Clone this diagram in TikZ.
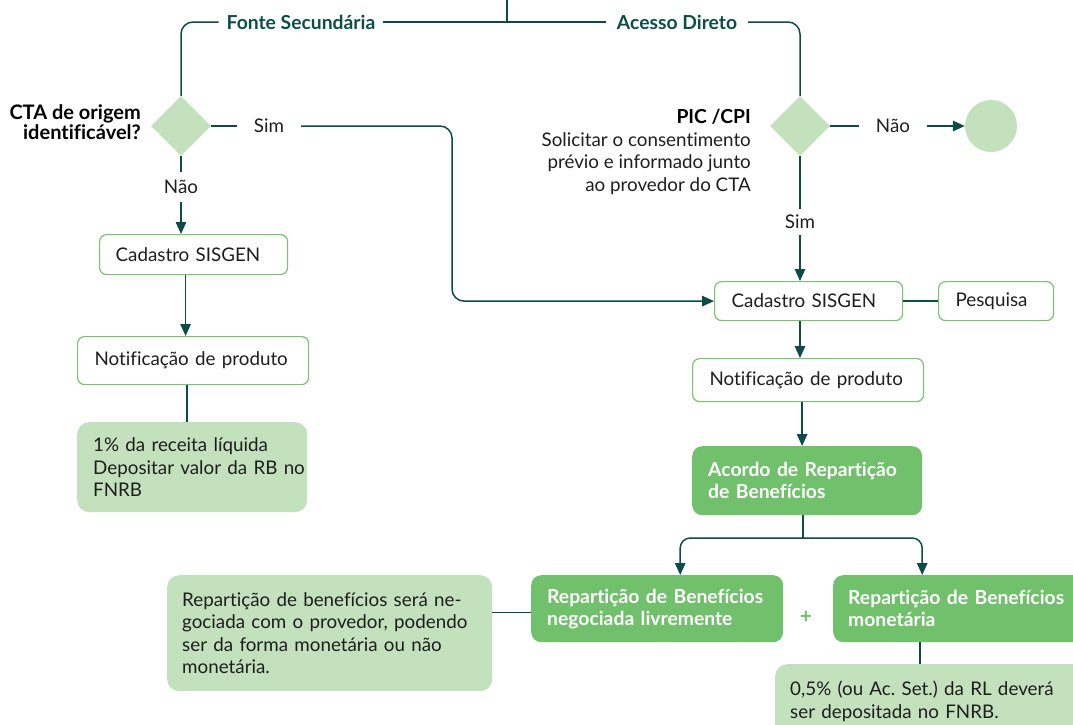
\documentclass[tikz,border=0pt]{standalone}
\usepackage{fontspec}
\setmainfont{Lato}[Ligatures=NoCommon]
\usetikzlibrary{shapes.geometric,arrows.meta,calc}
\frenchspacing

\definecolor{lineC}{HTML}{0D4B47}
\definecolor{titleC}{HTML}{0B4F47}
\definecolor{paleG}{HTML}{C3E1BD}
\definecolor{midG}{HTML}{71C06B}
\definecolor{edgeG}{HTML}{77C46F}
\definecolor{inkC}{HTML}{1E1E1E}

\newcommand\diagtext{\fontsize{18.8}{22.5}\selectfont}
\newcommand\diagbold{\fontsize{19.3}{22}\selectfont\bfseries}

\tikzset{
  conn/.style={draw=lineC, line width=1.5pt},
  arr/.style={conn, -{Triangle[length=12pt,width=10.5pt]}},
  basebox/.style={anchor=north west, inner xsep=16pt, inner ysep=0pt,
    align=left, font=\diagtext, text=inkC},
  outbox/.style={basebox, draw=edgeG, line width=1.2pt, fill=white, rounded corners=7pt},
  notebox/.style={basebox, fill=paleG, rounded corners=12pt},
  keybox/.style={basebox, fill=midG, rounded corners=10pt, text=white, font=\diagbold},
  decision/.style={diamond, fill=paleG, inner sep=0pt, minimum width=60pt, minimum height=60pt},
  branch/.style={font=\diagbold, text=titleC, inner ysep=2pt},
  tag/.style={font=\diagtext, text=inkC, inner xsep=17pt, inner ysep=8pt},
}

\begin{document}
\begin{tikzpicture}[x=1pt,y=-1pt]
\useasboundingbox (0,0) rectangle (1073,724);

% top branch line and its two labels
\coordinate (top) at (507,0);
\coordinate (junc) at (507,22);
\node[branch, inner xsep=8pt] (fonte) at (301,22) {Fonte Secundária};
\node[branch, inner xsep=11pt] (acesso) at (677,22) {Acesso Direto};

% decisions
\node[decision] (d1) at (181,126) {};
\node[decision] (d2) at (800,126) {};
\node[font=\fontsize{20}{20}\selectfont\bfseries, text=black, align=right, anchor=east, inner sep=0pt]
  (q1) at (141,122) {CTA de origem\\identificável?};
\node[font=\diagtext, text=inkC, align=right, anchor=north east, inner sep=0pt]
  (q2) at (751,109) {{\diagbold\color{black}PIC /CPI}\\Solicitar o consentimento\\prévio e informado junto\\ao provedor do CTA};

\node[tag] (sim1) at (269,126) {Sim};
\node[tag] (nao1) at (181,187) {Não};
\node[tag] (nao2) at (893,126) {Não};
\node[tag, inner ysep=6pt] (sim2) at (800,222) {Sim};
\node[circle, fill=paleG, minimum size=52pt, inner sep=0pt] (end) at (991,126) {};

% left column
\node[outbox, minimum height=40pt, text width=156pt] (cad1) at (99,234) {Cadastro SISGEN};
\node[outbox, minimum height=48pt, text width=197pt, inner xsep=17pt] (not1) at (77,336) {\mbox{Notificação de produto}};
\node[notebox, minimum height=90pt, text width=198pt] (note1) at (77,422)
  {\mbox{1\% da receita líquida}\\\mbox{Depositar valor da RB no}\\FNRB};

% right column
\node[outbox, minimum height=39pt, text width=154pt, inner xsep=17pt] (cad2) at (714,281) {Cadastro SISGEN};
\node[outbox, minimum height=39pt, text width=81pt, inner xsep=17pt] (pesq) at (938,281) {Pesquisa};
\node[outbox, minimum height=43pt, text width=197pt, inner xsep=17pt] (not2) at (692,358) {\mbox{Notificação de produto}};
\node[keybox, minimum height=69pt, text width=198pt] (acordo) at (692,446)
  {\mbox{Acordo de Repartição}\\de Benefícios};

% benefit sharing
\node[keybox, minimum height=67pt, text width=220pt] (rb1) at (531,575)
  {\mbox{Repartição de Benefícios}\\\mbox{negociada livremente}};
\node[keybox, minimum height=67pt, text width=220pt, inner xsep=15pt] (rb2) at (833,575)
  {\mbox{Repartição de Benefícios}\\monetária};
\node[font=\fontsize{21}{22}\selectfont\bfseries, text=midG] (plus) at (806,617) {+};
\node[notebox, minimum height=116pt, text width=295pt, inner xsep=15pt] (note2) at (167,575)
  {\mbox{Repartição de benefícios será ne-}\\\mbox{gociada com o provedor, podendo}\\\mbox{ser da forma monetária ou não}\\monetária.};
\node[notebox, minimum height=74pt, text width=280pt, inner xsep=15pt] (note3) at (775,664)
  {\mbox{0,5\% (ou Ac. Set.) da RL deverá}\\\mbox{ser depositada no FNRB.}};

% connectors
\draw[conn] (top) -- (junc);
\draw[conn, rounded corners=12pt] (fonte.west) -| (d1.north);
\draw[conn] (fonte.east) -- (acesso.west);
\draw[conn, rounded corners=12pt] (acesso.east) -| (d2.north);

\draw[conn] (d1.east) -- (sim1.west);
\coordinate (bend) at (452,200);
\draw[arr, rounded corners=12pt] (sim1.east) -| (bend) |- (cad2.west);
\draw[conn] (d1.south) -- (nao1.north);
\draw[arr] (nao1.south) -- (nao1.south |- cad1.north);
\coordinate (a1) at ([xshift=-8pt]cad1.south);
\draw[arr] (a1) -- (a1 |- not1.north);
\coordinate (a2) at ([xshift=-6pt]not1.south);
\draw[conn] (a2) -- (a2 |- note1.north);

\draw[conn] (d2.east) -- (nao2.west);
\draw[arr] (nao2.east) -- (end.west);
\draw[conn] (d2.south) -- (sim2.north);
\draw[arr] (sim2.south) -- (sim2.south |- cad2.north);
\draw[conn] (cad2.east) -- (pesq.west);
\coordinate (a3) at (sim2.south |- cad2.south);
\draw[arr] (a3) -- (a3 |- not2.north);
\coordinate (a4) at ([xshift=-6pt]not2.south);
\draw[arr] (a4) -- (a4 |- acordo.north);

\coordinate (lvl) at (0,538);
\coordinate (a5) at ([xshift=-4pt]acordo.south);
\coordinate (t1) at ([xshift=23pt]rb1.north);
\coordinate (t2) at ([xshift=-36pt]rb2.north);
\draw[conn] (a5) -- (a5 |- lvl);
\draw[arr, rounded corners=10pt] (a5 |- lvl) -| (t1);
\draw[arr, rounded corners=10pt] (a5 |- lvl) -| (t2);
\coordinate (a6) at ([yshift=-4pt]rb1.west);
\draw[conn] (a6) -- (a6 -| note2.east);
\coordinate (a7) at ([xshift=-38pt]rb2.south);
\draw[conn] (a7) -- (a7 |- note3.north);
\end{tikzpicture}
\end{document}
